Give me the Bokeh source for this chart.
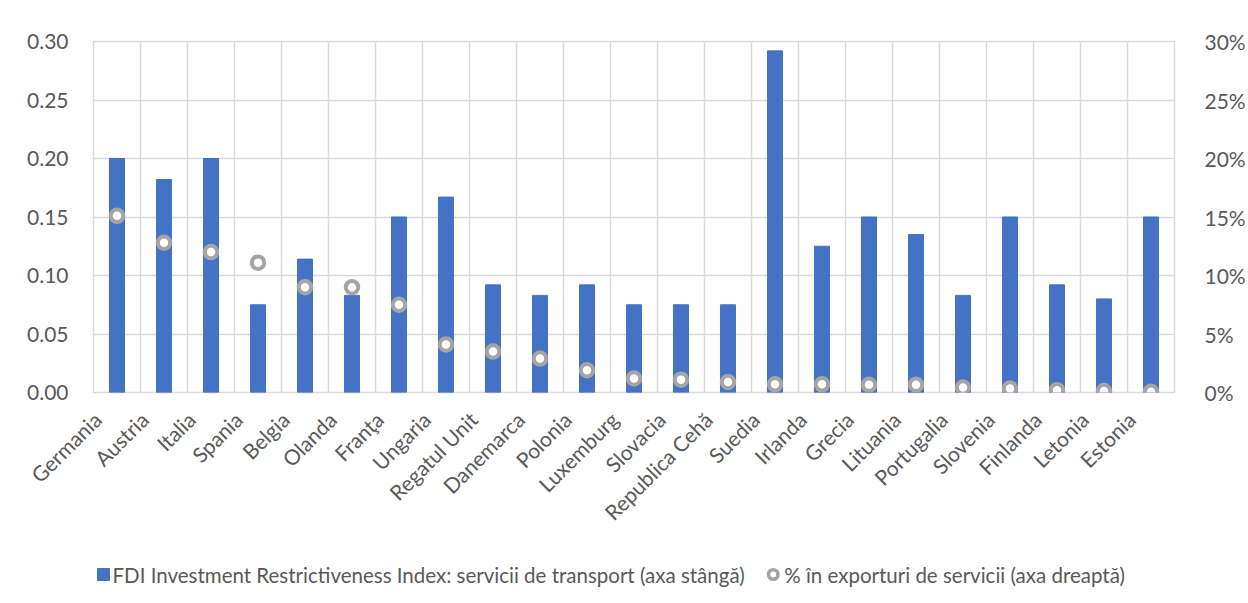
from math import pi
from bokeh.plotting import figure
from bokeh.layouts import column
from bokeh.core.properties import value
from bokeh.models import (ColumnDataSource, Range1d, LinearAxis, FixedTicker,
                          NumeralTickFormatter, Span)
from bokeh.embed import file_html
from bokeh.resources import INLINE

countries = ["Germania", "Austria", "Italia", "Spania", "Belgia", "Olanda", "Franţa",
             "Ungaria", "Regatul Unit", "Danemarca", "Polonia", "Luxemburg", "Slovacia",
             "Republica Cehă", "Suedia", "Irlanda", "Grecia", "Lituania", "Portugalia",
             "Slovenia", "Finlanda", "Letonia", "Estonia"]
fdi_index = [0.200, 0.182, 0.200, 0.075, 0.114, 0.083, 0.150, 0.167, 0.092, 0.083,
             0.092, 0.075, 0.075, 0.075, 0.292, 0.125, 0.150, 0.135, 0.083, 0.150,
             0.092, 0.080, 0.150]
share_exports = [0.151, 0.128, 0.120, 0.111, 0.090, 0.090, 0.075, 0.041, 0.035, 0.029,
                 0.019, 0.012, 0.011, 0.009, 0.007, 0.007, 0.0066, 0.0066, 0.0043, 0.0035,
                 0.0020, 0.0012, 0.0006]
left_ticks = [0, 0.05, 0.1, 0.15, 0.2, 0.25, 0.3]
right_ticks = [0, 0.05, 0.1, 0.15, 0.2, 0.25, 0.3]
bar_label = "FDI Investment Restrictiveness Index: servicii de transport (axa stângă)"
dot_label = "% în exporturi de servicii (axa dreaptă)"

FONT = "Lato"
GRAY_TXT = "#595959"
GRID = "#D9D9D9"
BLUE = "#4472C4"
CIRC = "#A5A5A5"

n = len(countries)
slot_centres = [i + 0.5 for i in range(n)]   # category slot centres
src = ColumnDataSource(dict(x=slot_centres, c=countries, fdi=fdi_index, pct=share_exports))

p = figure(width=1248, height=545, x_range=Range1d(0, n), y_range=Range1d(0, 0.3),
           output_backend="svg", toolbar_location=None,
           min_border_left=93, min_border_right=72, min_border_top=41, min_border_bottom=153)
p.extra_y_ranges = {"pct": Range1d(0, 0.3)}
# label axis: same category slots, labels anchored slightly left of the slot centre
lab_shift = 0.42
p.extra_x_ranges = {"lab": Range1d(lab_shift, n + lab_shift)}
p.outline_line_color = GRID
p.outline_line_width = 1.5
p.background_fill_color = "white"
p.border_fill_color = "white"

for i in range(1, n):
    p.add_layout(Span(location=i, dimension="height", line_color=GRID, line_width=1.5,
                      level="underlay"))

bars = p.vbar(x="x", top="fdi", width=0.32, source=src, fill_color=BLUE, line_color=BLUE)
dots = p.scatter(x="x", y="pct", source=src, y_range_name="pct", size=12.5,
                 fill_color="white", line_color=CIRC, line_width=4)

p.xgrid.visible = False
p.ygrid.grid_line_color = GRID
p.ygrid.grid_line_width = 1.5

ya = p.yaxis[0]
ya.ticker = FixedTicker(ticks=left_ticks)
ya.formatter = NumeralTickFormatter(format="0.00")
ya.axis_line_color = None
ya.major_tick_line_color = None
ya.minor_tick_line_color = None
ya.major_label_standoff = 19
ya.major_label_text_font = FONT
ya.major_label_text_font_size = "21px"
ya.major_label_text_color = GRAY_TXT

ra = LinearAxis(y_range_name="pct", ticker=FixedTicker(ticks=right_ticks),
                formatter=NumeralTickFormatter(format="0%"))
ra.axis_line_color = None
ra.major_tick_line_color = None
ra.minor_tick_line_color = None
ra.major_label_standoff = 24
ra.major_label_text_font = FONT
ra.major_label_text_font_size = "21px"
ra.major_label_text_color = GRAY_TXT
p.add_layout(ra, "right")

p.xaxis[0].visible = False
xa = LinearAxis(x_range_name="lab", ticker=FixedTicker(ticks=slot_centres),
                major_label_overrides={c: name for c, name in zip(slot_centres, countries)})
xa.axis_line_color = None
xa.major_tick_line_color = None
xa.minor_tick_line_color = None
xa.major_label_orientation = pi / 4
xa.major_label_standoff = 17
xa.major_label_text_font = FONT
xa.major_label_text_font_size = "21px"
xa.major_label_text_color = GRAY_TXT
p.add_layout(xa, "below")

# legend strip: its frame is aligned with the chart frame, so the x range is in page pixels
lg = figure(width=1248, height=58, x_range=Range1d(93, 1176), y_range=Range1d(0, 58),
            output_backend="svg", toolbar_location=None,
            min_border_left=93, min_border_right=72, min_border_top=0, min_border_bottom=0)
lg.axis.visible = False
lg.grid.visible = False
lg.outline_line_color = None
lg.background_fill_color = "white"
lg.border_fill_color = "white"
lg.scatter(x=[103], y=[29], marker="square", size=12, fill_color=BLUE, line_color=BLUE)
lg.scatter(x=[774], y=[29], size=9.5, fill_color="white", line_color=CIRC, line_width=3.6)
lg.text(x=[112, 785], y=[29, 29], text=[bar_label, dot_label], text_font=value(FONT),
        text_font_size="20.5px", text_color=GRAY_TXT, text_baseline="middle", text_align="left")

layout = column(p, lg, spacing=0)
open("out.html", "w").write(file_html(layout, INLINE))
